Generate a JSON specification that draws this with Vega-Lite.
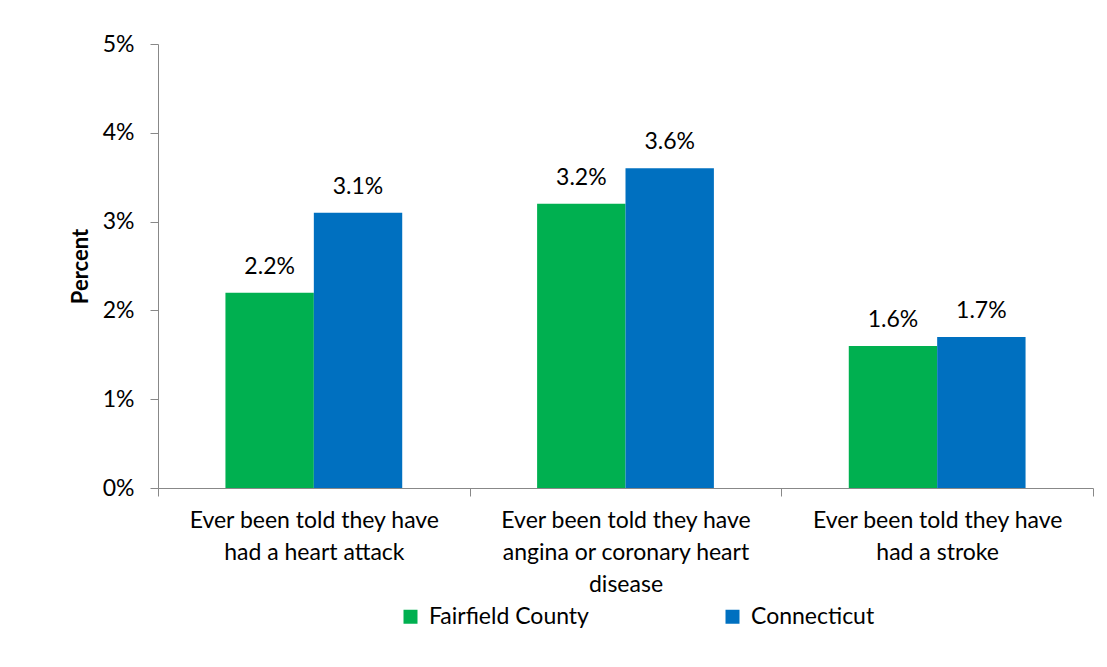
{
  "$schema": "https://vega.github.io/schema/vega-lite/v6.json",
  "width": 935,
  "height": 444,
  "autosize": {"type": "none"},
  "padding": {"left": 158, "top": 44, "right": 14, "bottom": 179},
  "background": "white",
  "config": {
    "view": {"stroke": null},
    "font": "Lato",
    "text": {"font": "Lato"}
  },
  "data": {
    "values": [
      {"measure": "Ever been told they have had a heart attack", "area": "Fairfield County", "pct": 0.022},
      {"measure": "Ever been told they have had a heart attack", "area": "Connecticut", "pct": 0.031},
      {"measure": "Ever been told they have angina or coronary heart disease", "area": "Fairfield County", "pct": 0.032},
      {"measure": "Ever been told they have angina or coronary heart disease", "area": "Connecticut", "pct": 0.036},
      {"measure": "Ever been told they have had a stroke", "area": "Fairfield County", "pct": 0.016},
      {"measure": "Ever been told they have had a stroke", "area": "Connecticut", "pct": 0.017}
    ]
  },
  "encoding": {
    "x": {
      "field": "measure",
      "type": "nominal",
      "sort": null,
      "scale": {"paddingInner": 0, "paddingOuter": 0},
      "axis": {
        "title": null,
        "labelAngle": 0,
        "labelFont": "Lato",
        "labelFontSize": 23,
        "labelColor": "#000000",
        "labelLineHeight": 32,
        "labelPadding": 13,
        "labelBaseline": "top",
        "labelLimit": 400,
        "tickBand": "extent",
        "tickSize": 8,
        "tickColor": "#888888",
        "domainColor": "#888888",
        "labelExpr": "datum.value == 'Ever been told they have had a heart attack' ? ['Ever been told they have', 'had a heart attack'] : datum.value == 'Ever been told they have angina or coronary heart disease' ? ['Ever been told they have', 'angina or coronary heart', 'disease'] : datum.value == 'Ever been told they have had a stroke' ? ['Ever been told they have', 'had a stroke'] : ''"
      }
    },
    "xOffset": {
      "field": "area",
      "type": "nominal",
      "sort": ["Fairfield County", "Connecticut"],
      "scale": {"paddingInner": 0, "paddingOuter": 0.763}
    },
    "y": {
      "field": "pct",
      "type": "quantitative",
      "scale": {"domain": [0, 0.05]},
      "axis": {
        "title": "Percent",
        "titleFont": "Lato",
        "titleFontSize": 22,
        "titleFontWeight": "bold",
        "titleColor": "#000000",
        "titlePadding": 10,
        "format": ".0%",
        "values": [0, 0.01, 0.02, 0.03, 0.04, 0.05],
        "labelFont": "Lato",
        "labelFontSize": 23,
        "labelColor": "#000000",
        "labelPadding": 16,
        "tickSize": 8,
        "tickColor": "#888888",
        "domainColor": "#888888",
        "grid": false
      }
    }
  },
  "layer": [
    {
      "mark": {"type": "bar"},
      "encoding": {
        "color": {
          "field": "area",
          "type": "nominal",
          "sort": ["Fairfield County", "Connecticut"],
          "scale": {"domain": ["Fairfield County", "Connecticut"], "range": ["#00B050", "#0070C0"]},
          "legend": {
            "title": null,
            "orient": "none",
            "direction": "horizontal",
            "legendX": 241,
            "legendY": 561,
            "symbolType": "square",
            "symbolSize": 196,
            "symbolStrokeWidth": 0,
            "labelFont": "Lato",
            "labelFontSize": 23,
            "labelColor": "#000000",
            "labelOffset": 7,
            "labelLimit": 300,
            "columnPadding": 132
          }
        }
      }
    },
    {
      "mark": {"type": "text", "baseline": "alphabetic", "dy": -19, "fontSize": 23, "font": "Lato", "color": "#000000"},
      "encoding": {
        "text": {"field": "pct", "type": "quantitative", "format": ".1%"}
      }
    }
  ]
}
